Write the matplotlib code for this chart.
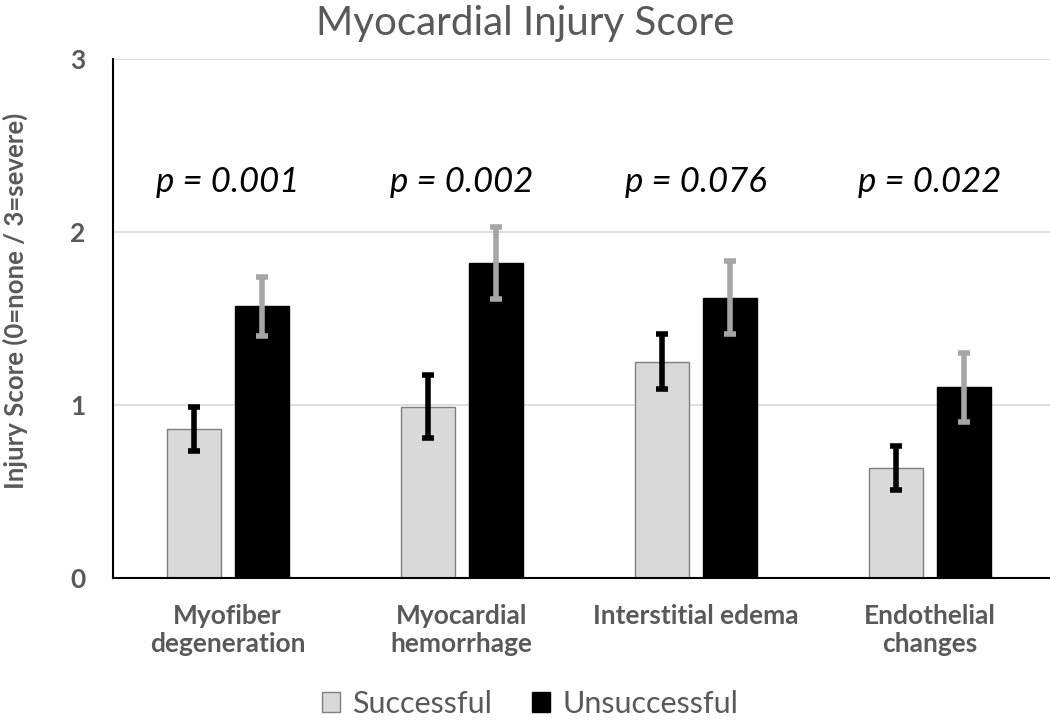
import matplotlib.pyplot as plt
import numpy as np

# ---- Data ----
categories = ["Myofiber\ndegeneration", "Myocardial\nhemorrhage", "Interstitial edema", "Endothelial\nchanges"]
successful = [0.86, 0.99, 1.25, 0.635]
successful_err = [0.125, 0.18, 0.16, 0.125]
unsuccessful = [1.57, 1.82, 1.62, 1.10]
unsuccessful_err = [0.17, 0.21, 0.21, 0.20]
p_values = ["p = 0.001", "p = 0.002", "p = 0.076", "p = 0.022"]

GRAY_TXT = "#595959"
plt.rcParams["font.family"] = ["Lato", "DejaVu Sans"]

fig = plt.figure(figsize=(10.5, 7.25), dpi=100)
ax = fig.add_axes([0.1076, 0.203, 0.892, 0.716])

x = np.arange(len(categories))
w = 0.23
off = 0.145
ax.bar(x - off, successful, w, color="#D9D9D9", edgecolor="#7F7F7F", linewidth=1,
       label="Successful", zorder=2)
ax.bar(x + off, unsuccessful, w, color="black", edgecolor="black", linewidth=1,
       label="Unsuccessful", zorder=2)
ax.errorbar(x - off, successful, yerr=successful_err, fmt="none", ecolor="black",
            elinewidth=4, capsize=4, capthick=4, zorder=3)
ax.errorbar(x + off, unsuccessful, yerr=unsuccessful_err, fmt="none", ecolor="#A6A6A6",
            elinewidth=4, capsize=4, capthick=4, zorder=3)

for xi, p in zip(x, p_values):
    ax.text(xi, 2.29, p, ha="center", va="center", fontsize=25, style="italic", color="black")

ax.set_xlim(-0.49, 3.51)
ax.set_ylim(0, 3)
ax.set_yticks([0, 1, 2, 3])
ax.yaxis.grid(True, color="#D9D9D9", linewidth=1.2, zorder=0)
ax.set_axisbelow(True)
ax.set_xticks(x)
ax.set_xticklabels(categories, fontsize=19, fontweight="bold", color=GRAY_TXT, linespacing=1.2)
for lbl in ax.get_yticklabels():
    lbl.set_fontsize(19)
    lbl.set_fontweight("bold")
    lbl.set_color(GRAY_TXT)
ax.tick_params(axis="both", length=0)
ax.tick_params(axis="x", pad=19)
ax.tick_params(axis="y", pad=20)
for s in ["top", "right"]:
    ax.spines[s].set_visible(False)
ax.spines["left"].set_linewidth(1.5)
ax.spines["bottom"].set_linewidth(1.5)
ax.set_ylabel("Injury Score (0=none / 3=severe)", fontsize=18.5, fontweight="bold",
              color=GRAY_TXT, va="center")
ax.yaxis.set_label_coords(-0.104, 0.534)

fig.suptitle("Myocardial Injury Score", fontsize=29, color=GRAY_TXT, y=0.993)
fig.legend(loc="lower center", bbox_to_anchor=(0.505, -0.028), ncol=2, frameon=False,
           fontsize=22, handlelength=0.6, handleheight=0.6, handletextpad=0.4,
           columnspacing=1.3, labelcolor=GRAY_TXT)

fig.savefig("out.png", dpi=100)
